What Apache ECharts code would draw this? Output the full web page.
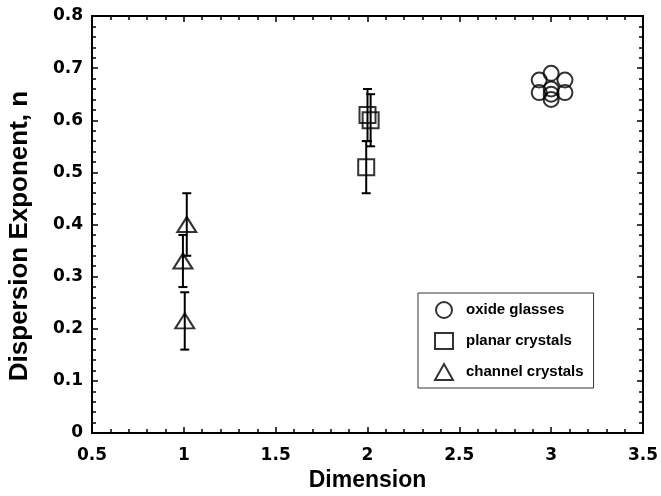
<!DOCTYPE html>
<html>
<head>
<meta charset="utf-8">
<script src="https://cdn.jsdelivr.net/npm/echarts@6/dist/echarts.min.js"></script>
<style>
  html, body { margin: 0; padding: 0; background: #fff; }
  #chart { width: 661px; height: 496px; }
</style>
</head>
<body>
<div id="chart"></div>
<script>
// oxide glasses (no error bars)
const glassX = [3.0, 2.935, 3.075, 2.935, 3.075, 3.0, 3.0, 3.0];
const glassY = [0.69, 0.677, 0.677, 0.653, 0.653, 0.66, 0.65, 0.64];

// planar crystals
const planarX = [2.0, 2.017, 1.993];
const planarY = [0.61, 0.60, 0.51];
const planarLow = [0.56, 0.55, 0.46];
const planarHigh = [0.66, 0.65, 0.56];

// channel crystals
const channelX = [1.016, 0.995, 1.005];
const channelY = [0.40, 0.33, 0.215];
const channelLow = [0.34, 0.28, 0.16];
const channelHigh = [0.46, 0.38, 0.27];

const seriesNames = ['oxide glasses', 'planar crystals', 'channel crystals'];

const chart = echarts.init(document.getElementById('chart'));

const tickFont = { fontFamily: 'DejaVu Sans', fontWeight: 'bold', fontSize: 17, color: '#000' };
const titleFont = { fontFamily: 'Liberation Sans', fontWeight: 'bold', color: '#000' };
const markerStyle = { color: 'rgba(0,0,0,0)', borderColor: '#000', borderWidth: 2 };

const boxAxis = (extra) => Object.assign({
  type: 'value',
  axisLine: { show: true, onZero: false, lineStyle: { color: '#000', width: 2 } },
  axisTick: { show: true, inside: true, length: 6, lineStyle: { color: '#000', width: 1.5 } },
  minorTick: { show: true, splitNumber: 5, length: 4, lineStyle: { color: '#000', width: 1.5 } },
  splitLine: { show: false },
  minorSplitLine: { show: false }
}, extra);

const errorBars = (xs, lo, hi) => ({
  type: 'custom',
  silent: true,
  z: 3,
  data: xs.map((x, i) => [x, lo[i], hi[i]]),
  renderItem: (params, api) => {
    const a = api.coord([api.value(0), api.value(1)]);
    const b = api.coord([api.value(0), api.value(2)]);
    const w = 4.5;
    const style = { stroke: '#000', lineWidth: 2 };
    return {
      type: 'group',
      children: [
        { type: 'line', shape: { x1: a[0], y1: a[1], x2: b[0], y2: b[1] }, style },
        { type: 'line', shape: { x1: a[0] - w, y1: a[1], x2: a[0] + w, y2: a[1] }, style },
        { type: 'line', shape: { x1: b[0] - w, y1: b[1], x2: b[0] + w, y2: b[1] }, style }
      ]
    };
  }
});

const option = {
  animation: false,
  backgroundColor: '#fff',
  grid: { left: 92, right: 18, top: 16, bottom: 63, outerBoundsMode: 'none' },
  legend: {
    data: seriesNames,
    orient: 'vertical',
    left: 418,
    top: 293,
    padding: [8, 10, 7, 16],
    itemGap: 13,
    itemWidth: 18,
    itemHeight: 16,
    borderColor: '#333',
    borderWidth: 1,
    backgroundColor: '#fff',
    textStyle: {
      fontFamily: 'Liberation Sans', fontWeight: 'bold', fontSize: 15, color: '#000',
      lineHeight: 16, padding: [0, 0, 0, 8]
    }
  },
  xAxis: [
    boxAxis({
      min: 0.5, max: 3.5, interval: 0.5,
      axisLabel: Object.assign({ margin: 14 }, tickFont),
      name: 'Dimension',
      nameLocation: 'middle',
      nameGap: 35,
      nameTextStyle: Object.assign({ fontSize: 23 }, titleFont)
    }),
    boxAxis({ min: 0.5, max: 3.5, interval: 0.5, position: 'top', axisLabel: { show: false } })
  ],
  yAxis: [
    boxAxis({
      min: 0, max: 0.8, interval: 0.1,
      axisLabel: Object.assign({ margin: 9 }, tickFont),
      name: 'Dispersion Exponent, n',
      nameLocation: 'middle',
      nameGap: 59,
      nameTextStyle: Object.assign({ fontSize: 26, padding: [0, 23, 0, 0] }, titleFont)
    }),
    boxAxis({ min: 0, max: 0.8, interval: 0.1, position: 'right', axisLabel: { show: false } })
  ],
  series: [
    {
      name: seriesNames[0],
      type: 'scatter',
      symbol: 'circle',
      symbolSize: 15,
      itemStyle: markerStyle,
      z: 4,
      data: glassX.map((x, i) => [x, glassY[i]])
    },
    {
      name: seriesNames[1],
      type: 'scatter',
      symbol: 'rect',
      symbolSize: 16,
      itemStyle: markerStyle,
      z: 4,
      data: planarX.map((x, i) => [x, planarY[i]])
    },
    {
      name: seriesNames[2],
      type: 'scatter',
      symbol: 'triangle',
      symbolSize: [19, 15],
      itemStyle: markerStyle,
      z: 4,
      data: channelX.map((x, i) => [x, channelY[i]])
    },
    errorBars(planarX, planarLow, planarHigh),
    errorBars(channelX, channelLow, channelHigh)
  ]
};

chart.setOption(option);
</script>
</body>
</html>
